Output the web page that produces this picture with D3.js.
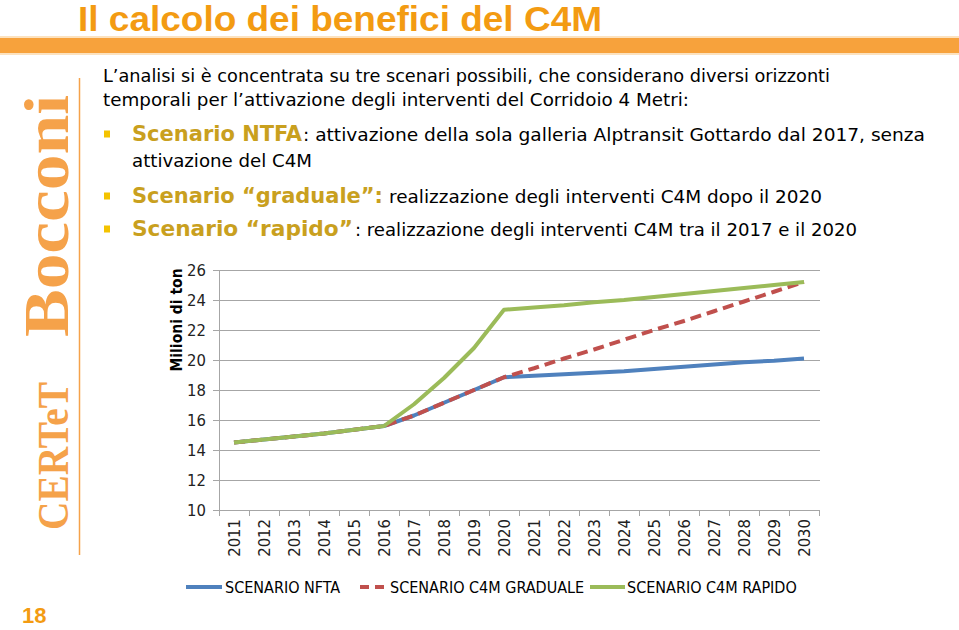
<!DOCTYPE html>
<html><head><meta charset="utf-8">
<script src="https://cdn.jsdelivr.net/npm/d3@7"></script>
<style>
html,body{margin:0;padding:0;background:#fff;}
svg{display:block;}
</style></head>
<body>
<script>
// ---- data ----
const years = ["2011","2012","2013","2014","2015","2016","2017","2018","2019","2020","2021","2022","2023","2024","2025","2026","2027","2028","2029","2030"];
const nfta     = [14.5,14.7,14.9,15.1,15.35,15.6,16.3,17.15,18.0,18.85,18.95,19.05,19.15,19.25,19.4,19.55,19.7,19.85,19.95,20.1];
const graduale = [14.5,14.7,14.9,15.1,15.35,15.6,16.3,17.15,18.0,18.85,19.45,20.1,20.7,21.35,22.0,22.6,23.25,23.9,24.55,25.2];
const rapido   = [14.5,14.7,14.9,15.1,15.35,15.6,17.05,18.8,20.8,23.35,23.5,23.65,23.85,24.0,24.2,24.4,24.6,24.8,25.0,25.2];
const yTicks = [10,12,14,16,18,20,22,24,26];
const seriesNames = ["SCENARIO NFTA","SCENARIO C4M GRADUALE","SCENARIO C4M RAPIDO"];
const yTitle = "Milioni di ton";
const title = "Il calcolo dei benefici del C4M";

const W = 959, H = 630;
const svg = d3.select("body").append("svg").attr("width", W).attr("height", H);
const bodyFont = "'DejaVu Sans Condensed','DejaVu Sans',sans-serif";

// ---- header ----
svg.append("text").attr("x", 78).attr("y", 31)
  .attr("font-family", "'Liberation Sans',Arial,sans-serif").attr("font-weight", "bold")
  .attr("font-size", 35).attr("fill", "#F39B12")
  .attr("textLength", 524).attr("lengthAdjust", "spacingAndGlyphs")
  .text(title);
svg.append("rect").attr("x", 0).attr("y", 36).attr("width", W).attr("height", 2).attr("fill", "#FCE2BF");
svg.append("rect").attr("x", 0).attr("y", 38).attr("width", W).attr("height", 15).attr("fill", "#F7A23C");
svg.append("rect").attr("x", 0).attr("y", 53).attr("width", W).attr("height", 2).attr("fill", "#FCE2BF");

// ---- sidebar ----
const side = "#F5A24A";
svg.append("line").attr("x1", 79.5).attr("x2", 79.5).attr("y1", 78).attr("y2", 555)
  .attr("stroke", side).attr("stroke-width", 1.5);
svg.append("text").attr("transform", "translate(68,530) rotate(-90)")
  .attr("font-family", "'Liberation Serif','DejaVu Serif',serif").attr("font-weight", "bold")
  .attr("font-size", 44).attr("fill", side)
  .attr("textLength", 148).attr("lengthAdjust", "spacingAndGlyphs").text("CERTeT");
svg.append("text").attr("transform", "translate(68,337) rotate(-90)")
  .attr("font-family", "'Liberation Serif','DejaVu Serif',serif").attr("font-weight", "bold")
  .attr("font-size", 64).attr("fill", side)
  .attr("textLength", 242).attr("lengthAdjust", "spacingAndGlyphs").text("Bocconi");
svg.append("text").attr("x", 22).attr("y", 623)
  .attr("font-family", "'Liberation Sans',Arial,sans-serif").attr("font-weight", "bold")
  .attr("font-size", 22).attr("fill", "#F39B12").text("18");

// ---- body text ----
const gold = "#C9A01E";
function seg(x, y, txt, len, bold) {
  svg.append("text").attr("x", x).attr("y", y)
    .attr("font-family", bodyFont)
    .attr("font-weight", bold ? "bold" : "normal")
    .attr("font-size", bold ? 20.5 : 18.5)
    .attr("fill", bold ? gold : "#000")
    .attr("textLength", len).attr("lengthAdjust", "spacingAndGlyphs")
    .style("white-space", "pre")
    .text(txt);
}
seg(103, 82, "L’analisi si è concentrata su tre scenari possibili, che considerano diversi orizzonti", 727, false);
seg(103, 106, "temporali per l’attivazione degli interventi del Corridoio 4 Metri:", 586, false);
seg(132, 141, "Scenario NTFA", 170, true);
seg(303, 141, ": attivazione della sola galleria Alptransit Gottardo dal 2017, senza", 622, false);
seg(132, 167, "attivazione del C4M", 180, false);
seg(132, 203, "Scenario “graduale”:", 251, true);
seg(389, 203, "realizzazione degli interventi C4M dopo il 2020", 433, false);
seg(132, 236, "Scenario “rapido”", 221, true);
seg(355, 236, ": realizzazione degli interventi C4M tra il 2017 e il 2020", 502, false);
[134, 196, 229].forEach(cy => {
  svg.append("rect").attr("x", 104).attr("y", cy - 3.5).attr("width", 6).attr("height", 7).attr("fill", "#F4C300");
});

// ---- chart ----
const x = d3.scaleBand().domain(years).range([219, 819]);
const y = d3.scaleLinear().domain([10, 26]).range([510, 270]);
const grid = "#A6A6A6";
const tickFs = 16.5;

const gy = svg.append("g").attr("transform", "translate(219,0)")
  .call(d3.axisLeft(y).tickValues(yTicks).tickSize(6).tickPadding(7).tickFormat(d3.format("d")));
gy.select(".domain").attr("stroke", grid);
gy.selectAll(".tick line").attr("stroke", grid);
gy.selectAll(".tick text").attr("font-family", bodyFont).attr("font-size", tickFs).attr("fill", "#222");

svg.append("g").selectAll("line").data(yTicks.filter(t => t !== 10)).join("line")
  .attr("x1", 219).attr("x2", 820).attr("y1", d => y(d) + 0.5).attr("y2", d => y(d) + 0.5)
  .attr("stroke", grid).attr("stroke-width", 1.2);

// x axis
svg.append("line").attr("x1", 219).attr("x2", 820).attr("y1", y(10) + 0.5).attr("y2", y(10) + 0.5)
  .attr("stroke", grid).attr("stroke-width", 1.2);
const bounds = years.map(d => x(d)).concat([x(years[years.length - 1]) + x.bandwidth()]);
svg.append("g").selectAll("line").data(bounds).join("line")
  .attr("x1", d => d + 0.5).attr("x2", d => d + 0.5).attr("y1", y(10)).attr("y2", y(10) + 6)
  .attr("stroke", grid);
svg.append("g").selectAll("text").data(years).join("text")
  .attr("transform", d => `translate(${x(d) + x.bandwidth() / 2},519) rotate(-90)`)
  .attr("text-anchor", "end").attr("dy", "0.36em")
  .attr("font-family", bodyFont).attr("font-size", tickFs).attr("fill", "#222")
  .text(d => d);

svg.append("text").attr("transform", "translate(182,320) rotate(-90)")
  .attr("text-anchor", "middle")
  .attr("font-family", bodyFont).attr("font-weight", "bold").attr("font-size", 15.5).attr("fill", "#000")
  .text(yTitle);

const line = d3.line().x((d, i) => x(years[i]) + x.bandwidth() / 2).y(d => y(d));
const colors = ["#4F81BD", "#C0504D", "#9BBB59"];
const dashes = [null, "11,6", null];
[nfta, graduale, rapido].forEach((s, i) => {
  svg.append("path").datum(s).attr("d", line)
    .attr("fill", "none").attr("stroke", colors[i]).attr("stroke-width", 4)
    .attr("stroke-linejoin", "round")
    .attr("stroke-dasharray", dashes[i]);
});

// legend
const leg = [
  {x1: 186, x2: 222, tx: 225},
  {x1: 360, x2: 386, tx: 390},
  {x1: 590, x2: 625, tx: 627}
];
leg.forEach((l, i) => {
  svg.append("line").attr("x1", l.x1).attr("x2", l.x2).attr("y1", 587).attr("y2", 587)
    .attr("stroke", colors[i]).attr("stroke-width", 4).attr("stroke-dasharray", i === 1 ? "9,6" : null);
  svg.append("text").attr("x", l.tx).attr("y", 593)
    .attr("font-family", bodyFont).attr("font-size", 16).attr("fill", "#000")
    .text(seriesNames[i]);
});
</script>
</body></html>
